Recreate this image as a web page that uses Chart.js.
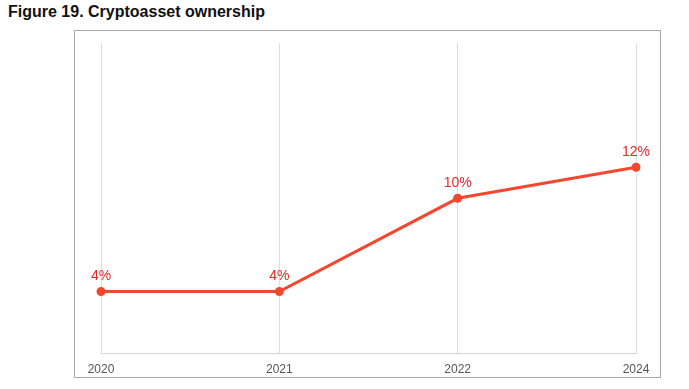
<!DOCTYPE html>
<html lang="en">
<head>
    <meta charset="UTF-8">
    <title>Figure 19</title>
    <script src="https://cdn.jsdelivr.net/npm/chart.js"></script>
    <style>
        body { margin: 0; width: 689px; height: 389px; background: #fff; position: relative; font-family: "Liberation Sans", Arial, sans-serif; }
        #title { position: absolute; left: 8px; top: 3px; font-size: 16px; font-weight: bold; color: #111; }
        #box { position: absolute; left: 74px; top: 30px; width: 585px; height: 346px; border: 1px solid #aaa; }
        #myChart { position: absolute; left: 0; top: 0; }
    </style>
</head>
<body>
    <div id="title">Figure 19. Cryptoasset ownership</div>
    <div id="box"></div>
    <canvas id="myChart" width="689" height="389"></canvas>
    <script>
        // data
        const years = ['2020', '2021', '2022', '2024'];
        const ownership = [4, 4, 10, 12];
        const valueLabels = ['4%', '4%', '10%', '12%'];

        // labels above the points
        const pointLabels = {
            id: 'pointLabels',
            afterDatasetsDraw(chart) {
                const ctx = chart.ctx;
                const meta = chart.getDatasetMeta(0);
                ctx.save();
                ctx.fillStyle = '#e8272b';
                ctx.font = '14px "Liberation Sans", Arial, sans-serif';
                ctx.textAlign = 'center';
                ctx.textBaseline = 'middle';
                meta.data.forEach((pt, i) => {
                    ctx.fillText(valueLabels[i], pt.x, pt.y - 15);
                });
                ctx.restore();
            }
        };

        const ctx = document.querySelector('#myChart');
        const chart = new Chart(ctx, {
            type: 'line',
            data: {
                labels: years,
                datasets: [{
                    data: ownership,
                    borderColor: '#f4472f',
                    backgroundColor: '#f4472f',
                    borderWidth: 3,
                    pointRadius: 3,
                    pointHoverRadius: 3,
                    tension: 0
                }]
            },
            options: {
                responsive: false,
                animation: false,
                layout: { padding: { left: 101, right: 53, top: 43, bottom: 3 } },
                plugins: {
                    legend: { display: false },
                    tooltip: { enabled: false }
                },
                scales: {
                    x: {
                        offset: false,
                        grid: { color: '#dddddd', drawTicks: false },
                        border: { color: '#d6d6d6' },
                        ticks: {
                            color: '#555',
                            font: { family: '"Liberation Sans", Arial, sans-serif', size: 12 },
                            padding: 9,
                            maxRotation: 0
                        }
                    },
                    y: {
                        display: false,
                        min: 0,
                        max: 20
                    }
                }
            },
            plugins: [pointLabels]
        });
    </script>
</body>
</html>
